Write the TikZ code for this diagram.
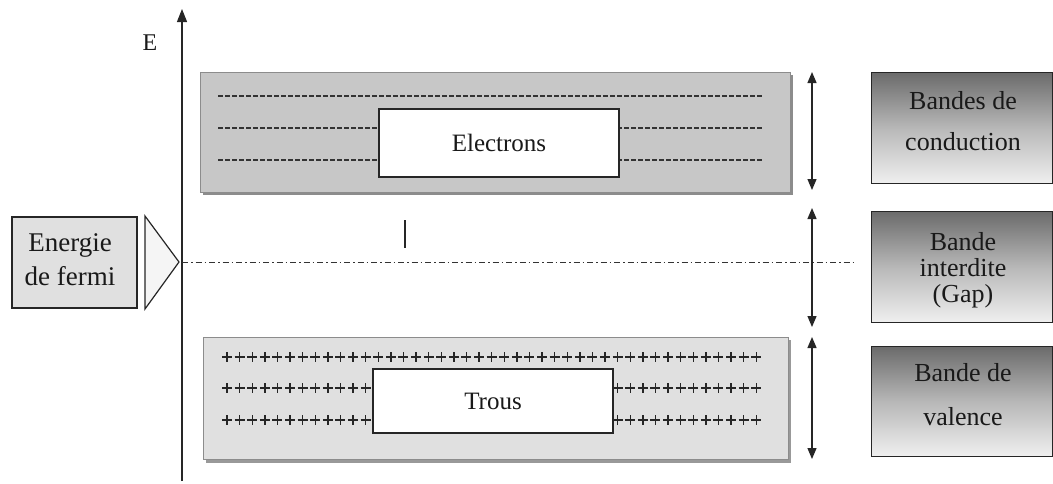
\documentclass[tikz,border=0pt]{standalone}
\usepackage{fontspec}
\setmainfont{Liberation Serif}
\usetikzlibrary{arrows.meta,calc}
\begin{document}
\begin{tikzpicture}[x=1pt,y=-1pt,
  every node/.style={font=\fontsize{25}{30}\selectfont, text=black!90},
  band/.style={draw=black!45, line width=0.8pt},
  labelbox/.style={draw=black!85, line width=1.1pt, fill=white, inner sep=0pt},
  legend/.style={draw=black!85, line width=1.2pt, top color=black!58, bottom color=black!6, middle color=black!28, inner sep=0pt},
  legtext/.style={font=\fontsize{26}{30}\selectfont, inner sep=0pt},
  dbl/.style={{Triangle[length=11pt,width=9pt]}-{Triangle[length=11pt,width=9pt]}, line width=1.3pt, black!85},
  eline/.style={dash pattern=on 5pt off 2pt, line width=1.2pt, black!80},
  plusmark/.style={line width=1.4pt, black!85}
]
\useasboundingbox (0,0) rectangle (1053,483);
% energy axis
\coordinate (axb) at (182,481);
\coordinate (axt) at (182,9);
\draw[-{Triangle[length=13pt,width=10pt]}, line width=1.1pt, black!85] (axb) -- (axt);
\node[font=\fontsize{24}{28}\selectfont] (E) at (150,43) {E};
% conduction band
\fill[black!45] (203,75) rectangle (793,195);
\node[band, fill=black!22, minimum width=590pt, minimum height=120pt, anchor=north west] (cb) at (200,72) {};
\foreach \yy in {96,128,160}{
  \draw[eline] (218,\yy) -- (762,\yy);
}
\node[labelbox, minimum width=240pt, minimum height=68pt] (el) at (499,143) {Electrons};
% valence band
\fill[black!40] (206,340) rectangle (791,463);
\node[band, fill=black!12, minimum width=585pt, minimum height=122pt, anchor=north west] (vb) at (203,337) {};
\foreach \yy in {357,388,420}{
  \foreach \i in {0,...,42}{
    \draw[plusmark] ({227+\i*12.6-5},\yy) -- ({227+\i*12.6+5},\yy);
    \draw[plusmark] ({227+\i*12.6},\yy-5) -- ({227+\i*12.6},\yy+5);
  }
}
\node[labelbox, minimum width=240pt, minimum height=64pt] (tr) at (493,401) {Trous};
% fermi level
\coordinate (fl) at (182,262);
\coordinate (fr) at (856,262);
\draw[dash pattern=on 6pt off 3pt on 1.5pt off 3pt, line width=1pt, black!80] (fl) -- (fr);
\coordinate (tk1) at (405,220);
\coordinate (tk2) at (405,248);
\draw[line width=1.2pt, black!85] (tk1) -- (tk2);
% fermi box
\node[draw=black!85, line width=1.2pt, fill=black!12, minimum width=125pt, minimum height=91pt, inner sep=0pt] (ef) at (74.5,262.5) {};
\node[font=\fontsize{27}{30}\selectfont, inner sep=0pt] (ef1) at (70,245) {Energie};
\node[font=\fontsize{27}{30}\selectfont, inner sep=0pt] (ef2) at (70,276) {de fermi};
\draw[line width=1.2pt, black!85, fill=black!4] (145,216) -- (179,262) -- (145,309) -- cycle;
% double arrows
\coordinate (a1t) at (812,72);  \coordinate (a1b) at (812,190);
\coordinate (a2t) at (812,208); \coordinate (a2b) at (812,327);
\coordinate (a3t) at (812,337); \coordinate (a3b) at (812,459);
\draw[dbl] (a1t) -- (a1b);
\draw[dbl] (a2t) -- (a2b);
\draw[dbl] (a3t) -- (a3b);
% legend boxes
\node[legend, minimum width=181pt, minimum height=111pt, anchor=north west] (l1) at (871,72) {};
\node[legtext] (l1a) at (963,101) {Bandes de};
\node[legtext] (l1b) at (963,142) {conduction};
\node[legend, minimum width=181pt, minimum height=111pt, anchor=north west] (l2) at (871,211) {};
\node[legtext] (l2a) at (963,242) {Bande};
\node[legtext] (l2b) at (963,268) {interdite};
\node[legtext] (l2c) at (963,296) {(Gap)};
\node[legend, minimum width=181pt, minimum height=110pt, anchor=north west] (l3) at (871,346) {};
\node[legtext] (l3a) at (963,373) {Bande de};
\node[legtext] (l3b) at (963,417) {valence};
\end{tikzpicture}
\end{document}
